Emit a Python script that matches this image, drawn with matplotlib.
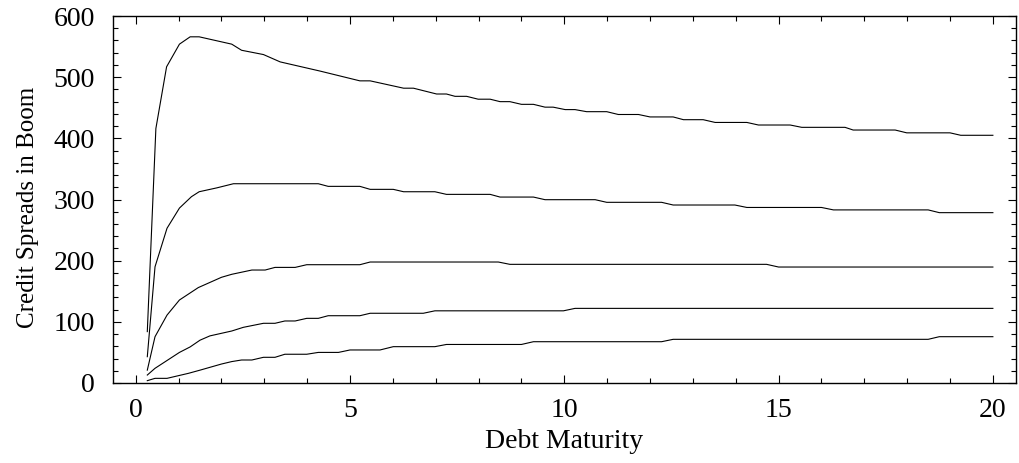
import numpy as np
import matplotlib
matplotlib.use('Agg')
import matplotlib.pyplot as plt
from matplotlib.ticker import MultipleLocator

plt.rcParams['font.family'] = ['Liberation Serif', 'DejaVu Serif']

# credit spreads (bp) vs debt maturity (years), five parameter cases
x_a = [0.27, 0.47, 0.72, 1.02, 1.27, 1.48, 2.24, 2.47, 2.98, 3.37, 4.3, 5.23, 5.47, 6.25, 6.48,
       7.02, 7.25, 7.45, 7.72, 7.99, 8.27, 8.5, 8.73, 9.0, 9.28, 9.55, 9.74, 10.02, 10.25,
       10.52, 10.99, 11.26, 11.73, 12.0, 12.54, 12.78, 13.24, 13.52, 14.26, 14.53, 15.27,
       15.54, 16.55, 16.74, 17.72, 17.99, 19.0, 19.25, 20.0]
y_a = [84, 416, 517, 554, 566, 566, 554, 544, 537, 525, 510, 494, 494, 482, 482,
       472.5, 472.5, 468.7, 468.7, 464, 464, 460, 460, 455.6, 455.6, 451, 451, 447, 447,
       443.6, 443.6, 439, 439, 435, 435, 430.5, 430.5, 426, 426, 421.8, 421.8,
       418, 418, 413.6, 413.6, 409, 409, 405, 405]

x_b = [0.27, 0.45, 0.73, 1.02, 1.3, 1.48, 1.89, 2.28, 4.26, 4.49, 5.23, 5.47, 6.01, 6.25,
       6.98, 7.25, 8.27, 8.5, 9.28, 9.55, 10.72, 10.99, 12.27, 12.54, 13.98, 14.26,
       16.0, 16.28, 18.49, 18.75, 20.0]
y_b = [43, 190, 253, 286, 304.6, 312.7, 319, 325.8, 325.8, 321.5, 321.5, 316.6, 316.6, 312.7,
       312.7, 308.4, 308.4, 304, 304, 299.7, 299.7, 295.4, 295.4, 291, 291, 287,
       287, 283, 283, 278.5, 278.5]

x_c = [0.27, 0.45, 0.73, 1.02, 1.46, 2.0, 2.24, 2.71, 3.02, 3.25, 3.72, 3.99, 5.23, 5.47,
       8.46, 8.73, 14.72, 15.0, 20.0]
y_c = [21, 75.7, 111, 135.7, 156, 172.8, 177.7, 184.7, 184.7, 189, 189, 193.4, 193.4, 197.8,
       197.8, 194, 194, 189.6, 189.6]

x_d = [0.27, 0.45, 1.02, 1.27, 1.5, 1.73, 2.24, 2.51, 2.98, 3.25, 3.48, 3.72, 3.99, 4.26,
       4.49, 5.23, 5.47, 6.71, 6.98, 9.98, 10.25, 20.0]
y_d = [13, 24, 50, 59, 70, 77, 85, 91, 97.6, 97.6, 101.4, 101.4, 105.7, 105.7,
       110, 110, 114, 114, 118, 118, 122, 122]

x_e = [0.27, 0.45, 0.73, 1.23, 1.5, 2.0, 2.24, 2.47, 2.71, 2.98, 3.25, 3.48, 3.99, 4.26,
       4.73, 5.0, 5.7, 6.01, 6.98, 7.25, 9.0, 9.28, 12.27, 12.54, 18.49, 18.75, 20.0]
y_e = [3.8, 7.6, 7.6, 15.8, 21, 31, 35, 37.6, 37.6, 42, 42, 47, 47, 50,
       50, 54, 54, 59.4, 59.4, 63, 63, 67.5, 67.5, 71.4, 71.4, 75.7, 75.7]

curves = [(x_a, y_a), (x_b, y_b), (x_c, y_c), (x_d, y_d), (x_e, y_e)]

fig = plt.figure(figsize=(10.2, 4.63), dpi=100)
ax = fig.add_axes([0.1108, 0.1728, 0.8853, 0.7926])

for xs, ys in curves:
    ax.plot(xs, ys, color='black', lw=0.8)

ax.set_xlim(-0.53, 20.54)
ax.set_ylim(0, 600)
ax.xaxis.set_major_locator(MultipleLocator(5))
ax.xaxis.set_minor_locator(MultipleLocator(1))
ax.yaxis.set_major_locator(MultipleLocator(100))
ax.yaxis.set_minor_locator(MultipleLocator(20))
ax.tick_params(which='both', direction='in', top=True, right=True, width=0.8, labelsize=20)
ax.tick_params(which='major', length=6)
ax.tick_params(which='minor', length=3.5)
ax.tick_params(axis='x', which='major', pad=11)
ax.tick_params(axis='y', which='major', pad=13)
for s in ax.spines.values():
    s.set_linewidth(1.0)

ax.set_xlabel('Debt Maturity', fontsize=20, labelpad=4)
ax.set_ylabel('Credit Spreads in Boom', fontsize=18)
ax.yaxis.set_label_coords(-0.082, 0.478)

fig.savefig('out.png', dpi=100)
